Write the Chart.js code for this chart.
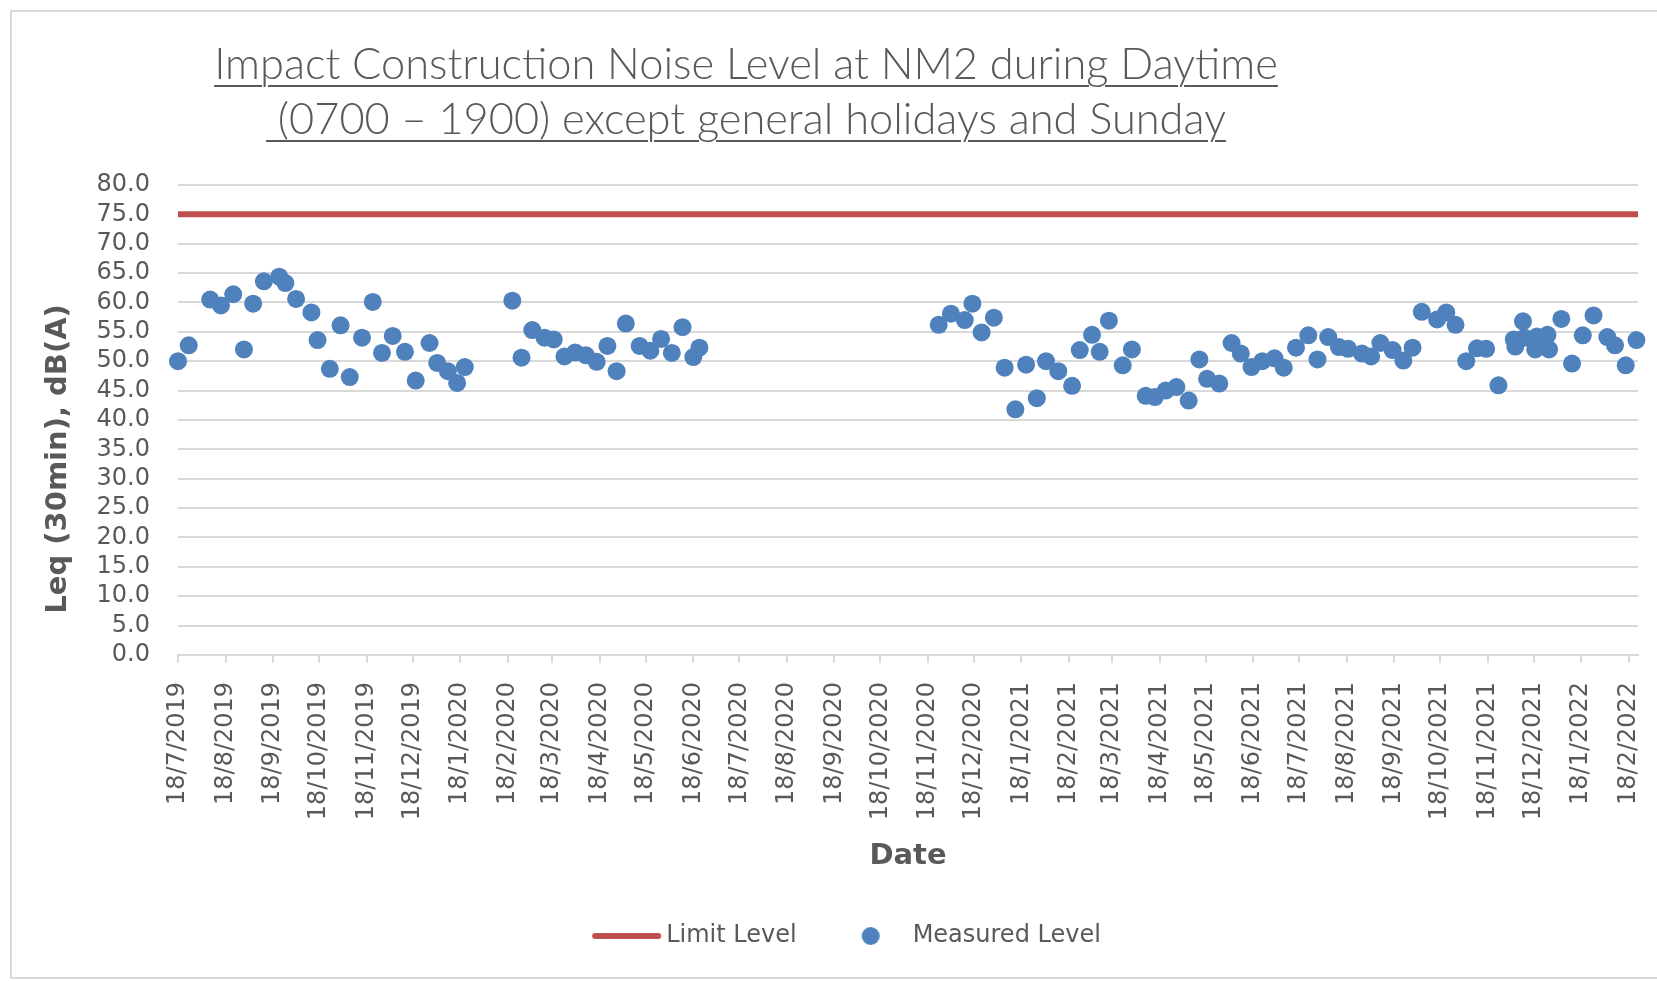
<!DOCTYPE html>
<html>
<head>
<meta charset="utf-8">
<script src="https://cdn.jsdelivr.net/npm/chart.js@4.4.1/dist/chart.umd.min.js"></script>
<style>
    html, body { margin: 0; padding: 0; background: #fff; }
    #wrap { position: relative; width: 1657px; height: 981px; overflow: hidden; }
    #noiseChart { position: absolute; left: 0; top: 0; }
    #frame { position: absolute; left: 10px; top: 10px; width: 1700px; height: 965px; border: 2px solid #d9d9d9; pointer-events: none; }
    #title { position: absolute; left: 0; top: 35px; width: 1492px; text-align: center; font-family: Lato, sans-serif; font-weight: 300; font-size: 43.4px; line-height: 55px; color: #595959; white-space: pre; }
    #title span { text-decoration: underline; text-decoration-thickness: 2px; text-underline-offset: 6px; }
</style>
</head>
<body>
<div id="wrap">
    <canvas id="noiseChart" width="1657" height="981"></canvas>
    <div id="title"><span>Impact Construction Noise Level at NM2 during Daytime</span><br><span> (0700 – 1900) except general holidays and Sunday</span></div>
    <div id="frame"></div>
</div>
<script>
const tickLabels = [
    '18/7/2019', '18/8/2019', '18/9/2019', '18/10/2019', '18/11/2019', '18/12/2019',
    '18/1/2020', '18/2/2020', '18/3/2020', '18/4/2020', '18/5/2020', '18/6/2020',
    '18/7/2020', '18/8/2020', '18/9/2020', '18/10/2020', '18/11/2020', '18/12/2020',
    '18/1/2021', '18/2/2021', '18/3/2021', '18/4/2021', '18/5/2021', '18/6/2021',
    '18/7/2021', '18/8/2021', '18/9/2021', '18/10/2021', '18/11/2021', '18/12/2021',
    '18/1/2022', '18/2/2022'
];
const axisStart = '18/7/2019';
const axisEnd = '24/2/2022';
const limitLevel = 75;
const yTitleText = 'Leq (30min), dB(A)';

const measuredDates = [
    '18/7/2019', '25/7/2019', '8/8/2019', '15/8/2019', '23/8/2019', '30/8/2019', '5/9/2019', '12/9/2019',
    '22/9/2019', '26/9/2019', '3/10/2019', '13/10/2019', '17/10/2019', '25/10/2019', '1/11/2019', '7/11/2019',
    '15/11/2019', '22/11/2019', '28/11/2019', '5/12/2019', '13/12/2019', '20/12/2019', '29/12/2019', '3/1/2020',
    '10/1/2020', '16/1/2020', '21/1/2020',
    '21/2/2020', '27/2/2020', '5/3/2020', '13/3/2020', '19/3/2020', '26/3/2020', '2/4/2020', '9/4/2020',
    '16/4/2020', '23/4/2020', '29/4/2020', '5/5/2020', '14/5/2020', '21/5/2020', '28/5/2020', '4/6/2020',
    '11/6/2020', '18/6/2020', '22/6/2020',
    '25/11/2020', '3/12/2020', '12/12/2020', '17/12/2020', '23/12/2020', '31/12/2020', '7/1/2021', '14/1/2021',
    '21/1/2021', '28/1/2021', '3/2/2021', '11/2/2021', '20/2/2021', '25/2/2021', '5/3/2021', '10/3/2021',
    '16/3/2021', '25/3/2021', '31/3/2021', '9/4/2021', '15/4/2021', '22/4/2021', '29/4/2021', '7/5/2021',
    '14/5/2021', '19/5/2021', '27/5/2021', '4/6/2021', '10/6/2021', '17/6/2021', '24/6/2021', '2/7/2021',
    '8/7/2021', '16/7/2021', '24/7/2021', '30/7/2021', '6/8/2021', '13/8/2021', '19/8/2021', '28/8/2021',
    '3/9/2021', '9/9/2021', '17/9/2021', '24/9/2021', '30/9/2021', '6/10/2021', '16/10/2021', '22/10/2021',
    '28/10/2021', '4/11/2021', '11/11/2021', '17/11/2021', '25/11/2021', '5/12/2021', '6/12/2021', '11/12/2021',
    '12/12/2021', '19/12/2021', '20/12/2021', '27/12/2021', '28/12/2021', '5/1/2022', '12/1/2022', '19/1/2022',
    '26/1/2022', '4/2/2022', '9/2/2022', '16/2/2022', '23/2/2022'
];
const measuredLevels = [
    50.0, 52.7, 60.5, 59.5, 61.4, 52.0, 59.8, 63.6,
    64.4, 63.3, 60.6, 58.3, 53.6, 48.7, 56.1, 47.3,
    54.0, 60.1, 51.4, 54.3, 51.6, 46.7, 53.1, 49.7,
    48.3, 46.3, 49.0,
    60.3, 50.6, 55.3, 54.0, 53.7, 50.8, 51.5, 51.0,
    49.9, 52.6, 48.3, 56.4, 52.6, 51.8, 53.8, 51.4,
    55.8, 50.7, 52.3,
    56.2, 58.1, 57.0, 59.8, 54.9, 57.4, 48.9, 41.8,
    49.4, 43.7, 50.0, 48.3, 45.8, 51.9, 54.5, 51.6,
    56.9, 49.3, 52.0, 44.1, 43.9, 45.0, 45.6, 43.3,
    50.3, 47.0, 46.2, 53.1, 51.3, 49.0, 50.0, 50.5,
    48.9, 52.3, 54.4, 50.3, 54.1, 52.4, 52.1, 51.3,
    50.8, 53.1, 51.9, 50.1, 52.3, 58.4, 57.1, 58.3,
    56.2, 50.0, 52.2, 52.1, 45.9, 53.7, 52.5, 56.8,
    54.0, 52.0, 54.2, 54.5, 52.0, 57.2, 49.6, 54.4,
    57.8, 54.1, 52.7, 49.3, 53.6
];

// d/m/yyyy -> day number, so the linear axis spaces dates correctly
function toDay(s) {
    const [d, m, y] = s.split('/').map(Number);
    return Date.UTC(y, m - 1, d) / 86400000;
}

const grey = '#595959';
const red = '#C0504D';
const blue = '#4F81BD';
const tickFont = { family: 'DejaVu Sans', size: 24, lineHeight: 1 };

// legend glyphs, drawn a bit off-centre so the gaps look like Excel's
function lineIcon() {
    const c = document.createElement('canvas');
    c.width = 100; c.height = 8;
    const g = c.getContext('2d');
    g.strokeStyle = red; g.lineWidth = 6; g.lineCap = 'round';
    g.beginPath(); g.moveTo(25, 4); g.lineTo(88, 4); g.stroke();
    return c;
}
function dotIcon() {
    const c = document.createElement('canvas');
    c.width = 100; c.height = 20;
    const g = c.getContext('2d');
    g.fillStyle = blue;
    g.beginPath(); g.arc(54, 10, 9, 0, Math.PI * 2); g.fill();
    return c;
}
const legendIcons = [lineIcon(), dotIcon()];

// Excel put the y title a little below the middle of the axis, so draw it here
const yTitle = {
    id: 'yTitle',
    afterDraw(chart) {
        const { ctx, chartArea } = chart;
        ctx.save();
        ctx.translate(58, (chartArea.top + chartArea.bottom) / 2 + 39);
        ctx.rotate(-Math.PI / 2);
        ctx.font = 'bold 29px "DejaVu Sans"';
        ctx.fillStyle = grey;
        ctx.textAlign = 'center';
        ctx.textBaseline = 'middle';
        ctx.fillText(yTitleText, 0, 0);
        ctx.restore();
    }
};

const xMin = toDay(axisStart);
const xMax = toDay(axisEnd);

new Chart(document.getElementById('noiseChart'), {
    type: 'scatter',
    data: {
        datasets: [
            {
                type: 'line',
                label: 'Limit Level',
                data: [{ x: xMin, y: limitLevel }, { x: xMax, y: limitLevel }],
                borderColor: red,
                backgroundColor: red,
                borderWidth: 6,
                pointRadius: 0
            },
            {
                label: 'Measured Level',
                data: measuredDates.map((d, i) => ({ x: toDay(d), y: measuredLevels[i] })),
                backgroundColor: blue,
                borderColor: blue,
                borderWidth: 0,
                pointRadius: 9,
                pointHoverRadius: 9,
                clip: false
            }
        ]
    },
    plugins: [yTitle],
    options: {
        responsive: false,
        animation: false,
        layout: { padding: { left: 30, right: 0, top: 185, bottom: 23 } },
        plugins: {
            tooltip: { enabled: false },
            legend: {
                position: 'bottom',
                labels: {
                    usePointStyle: true,
                    pointStyleWidth: 68,
                    padding: 36,
                    color: grey,
                    font: { family: 'DejaVu Sans', size: 24 },
                    generateLabels(chart) {
                        const items = Chart.defaults.plugins.legend.labels.generateLabels(chart);
                        items.forEach(it => { it.pointStyle = legendIcons[it.datasetIndex]; });
                        return items;
                    }
                }
            }
        },
        scales: {
            x: {
                type: 'linear',
                min: xMin,
                max: xMax,
                afterBuildTicks: (scale) => { scale.ticks = tickLabels.map(t => ({ value: toDay(t) })); },
                afterFit: (scale) => { scale.paddingRight = 19; },
                ticks: {
                    autoSkip: false,
                    minRotation: 90,
                    maxRotation: 90,
                    padding: 19,
                    color: grey,
                    font: tickFont,
                    callback: (v, i) => tickLabels[i]
                },
                grid: { drawOnChartArea: false, color: '#d9d9d9', lineWidth: 2, tickLength: 8 },
                border: { color: '#d9d9d9', width: 2 },
                title: {
                    display: true,
                    text: 'Date',
                    color: grey,
                    font: { family: 'DejaVu Sans', size: 29, weight: 'bold' },
                    padding: { top: 0, bottom: 14 }
                }
            },
            y: {
                min: 0,
                max: 80,
                afterFit: (scale) => { scale.width = 148; },
                ticks: {
                    stepSize: 5,
                    autoSkip: false,
                    padding: 28,
                    color: grey,
                    font: tickFont,
                    callback: v => v.toFixed(1)
                },
                grid: { color: '#d9d9d9', lineWidth: 2, drawTicks: false },
                border: { display: false }
            }
        }
    }
});
</script>
</body>
</html>
